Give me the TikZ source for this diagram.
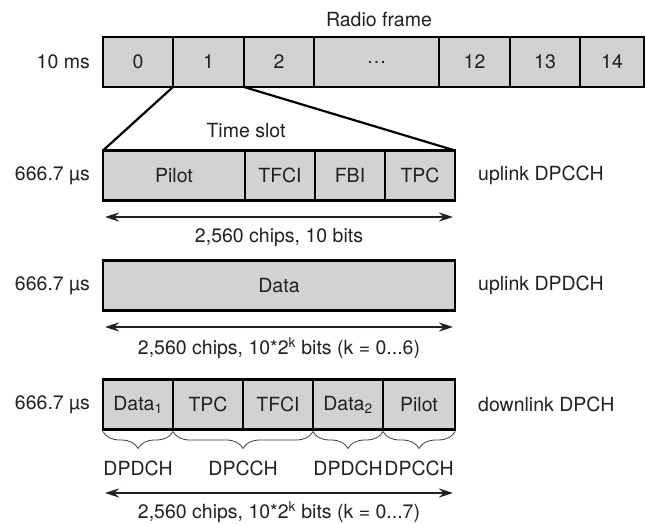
\documentclass[tikz,border=0pt]{standalone}
\usepackage{fontspec}
\setmainfont{TeX Gyre Heros}
\usetikzlibrary{arrows.meta,decorations.pathreplacing,backgrounds}

\definecolor{boxgray}{RGB}{209,210,212}
\definecolor{slotgray}{RGB}{227,228,230}
\definecolor{inkgray}{RGB}{35,31,32}

\tikzset{
  cell/.style={draw=black, line width=2.8pt, fill=boxgray, inner sep=0pt, outer sep=0pt,
    minimum height=50pt, text=inkgray, font=\fontsize{19.5}{22}\selectfont},
  lbl/.style={text=inkgray, inner sep=0pt, font=\fontsize{19.5}{22}\selectfont},
  span/.style={<->, >={Stealth[length=14pt,width=9pt]}, line width=1.3pt, draw=inkgray},
  brc/.style={decorate, decoration={brace, mirror, amplitude=17pt}, line width=0.8pt, draw=inkgray!85},
}

\begin{document}
\begin{tikzpicture}[x=1pt,y=-1pt]
  \useasboundingbox (0,0) rectangle (646,524);
  \fill[white] (0,0) rectangle (646,524);

  \node[lbl] (rframe) at (379,20) {Radio frame};
  \foreach \n/\xa/\xb [count=\i] in {0/103/173,1/173/244,2/244/314,\ldots/314/439,12/439/510,13/510/580,14/580/644}
    \node[cell, minimum width={(\xb-\xa)*1pt}] (f\i) at ({(\xa+\xb)/2},62) {\n};
  \node[lbl, anchor=east] (tframe) at (90,62) {10 ms};

  \foreach \n/\t/\xa/\xb in {pilot/Pilot/103/245,tfci/TFCI/245/315,fbi/FBI/315/385,tpc/TPC/385/455}
    \node[cell, minimum width={(\xb-\xa)*1pt}] (s\n) at ({(\xa+\xb)/2},175.5) {\t};
  \begin{scope}[on background layer]
    \fill[slotgray] (f2.south west) -- (f2.south east) -- (stpc.north east) -- (spilot.north west) -- cycle;
  \end{scope}
  \draw[line width=2.2pt] (f2.south west) -- (spilot.north west);
  \draw[line width=2.2pt] (f2.south east) -- (stpc.north east);
  \node[lbl] (tslot) at (246,131) {Time slot};
  \node[lbl, anchor=east] (tup1) at (90,175.5) {666.7 µs};
  \node[lbl, anchor=west] (nup1) at (478,175.5) {uplink DPCCH};
  \coordinate (a1l) at (105,217);
  \coordinate (a1r) at (453,217);
  \draw[span] (a1l) -- (a1r);
  \node[lbl] (b1) at (279,238) {2,560 chips, 10 bits};

  \node[cell, minimum width=352pt] (data) at (279,285.5) {Data};
  \node[lbl, anchor=east] (tup2) at (90,285.5) {666.7 µs};
  \node[lbl, anchor=west] (nup2) at (478,285.5) {uplink DPDCH};
  \coordinate (a2l) at (105,327);
  \coordinate (a2r) at (453,327);
  \draw[span] (a2l) -- (a2r);
  \node[lbl] (b2) at (279,348) {2,560 chips, 10*2\textsuperscript{k} bits (k = 0...6)};

  \foreach \n/\t/\xa/\xb in {data1/Data\textsubscript{1}/103/173,tpc/TPC/173/243,tfci/TFCI/243/313,data2/Data\textsubscript{2}/313/383,pilot/Pilot/383/455}
    \node[cell, minimum width={(\xb-\xa)*1pt}] (d\n) at ({(\xa+\xb)/2},404.5) {\t};
  \node[lbl, anchor=east] (tdown) at (90,404.5) {666.7 µs};
  \node[lbl, anchor=west] (ndown) at (478,404.5) {downlink DPCH};
  \draw[brc] ([yshift=-2pt]ddata1.south west) -- ([yshift=-2pt]ddata1.south east);
  \draw[brc] ([yshift=-2pt]dtpc.south west) -- ([yshift=-2pt]dtfci.south east);
  \draw[brc] ([yshift=-2pt]ddata2.south west) -- ([yshift=-2pt]ddata2.south east);
  \draw[brc] ([yshift=-2pt]dpilot.south west) -- ([yshift=-2pt]dpilot.south east);
  \node[lbl] (c1) at (138,468) {DPDCH};
  \node[lbl] (c2) at (243,468) {DPCCH};
  \node[lbl] (c3) at (348,468) {DPDCH};
  \node[lbl] (c4) at (419,468) {DPCCH};
  \coordinate (a3l) at (105,493);
  \coordinate (a3r) at (453,493);
  \draw[span] (a3l) -- (a3r);
  \node[lbl] (b3) at (279,512) {2,560 chips, 10*2\textsuperscript{k} bits (k = 0...7)};
\end{tikzpicture}
\end{document}
